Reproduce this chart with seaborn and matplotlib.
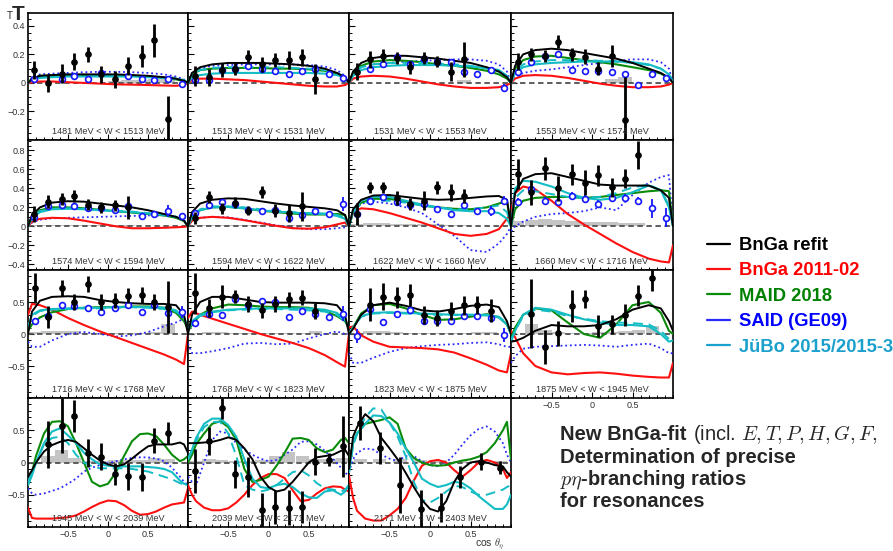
import numpy as np
import pandas as pd
import matplotlib
matplotlib.use("Agg")
import matplotlib.pyplot as plt
import seaborn as sns
from matplotlib.lines import Line2D
from matplotlib import ticker

# ---------------------------------------------------------------- data
W_BINS = ["1481 MeV < W < 1513 MeV", "1513 MeV < W < 1531 MeV", "1531 MeV < W < 1553 MeV",
          "1553 MeV < W < 1574 MeV", "1574 MeV < W < 1594 MeV", "1594 MeV < W < 1622 MeV",
          "1622 MeV < W < 1660 MeV", "1660 MeV < W < 1716 MeV", "1716 MeV < W < 1768 MeV",
          "1768 MeV < W < 1823 MeV", "1823 MeV < W < 1875 MeV", "1875 MeV < W < 1945 MeV",
          "1945 MeV < W < 2039 MeV", "2039 MeV < W < 2171 MeV", "2171 MeV < W < 2403 MeV"]

MODEL_NAMES = ["BnGa refit", "BnGa 2011-02", "MAID 2018", "SAID (GE09)", "JüBo 2015/2015-3"]

# curve sampling points (rows 1-3 and row 4)
CURVE_X_A = [-1, -0.95, -0.85, -0.7, -0.5, -0.3, -0.1, 0.1, 0.3, 0.5, 0.7, 0.85, 0.95, 1]
CURVE_X_B = [-1, -0.95, -0.9, -0.8, -0.7, -0.6, -0.5, -0.4, -0.3, -0.2, -0.1, 0, 0.1, 0.2,
             0.3, 0.4, 0.5, 0.6, 0.7, 0.8, 0.9, 0.95, 1]

BNGA_REFIT = [
    [0, 0.03, 0.05, 0.055, 0.06, 0.06, 0.06, 0.06, 0.055, 0.05, 0.04, 0.03, 0.015, 0],
    [0, 0.07, 0.11, 0.13, 0.14, 0.14, 0.14, 0.135, 0.13, 0.12, 0.1, 0.07, 0.04, 0],
    [0, 0.08, 0.14, 0.175, 0.19, 0.19, 0.18, 0.17, 0.155, 0.14, 0.11, 0.08, 0.04, 0],
    [0, 0.12, 0.2, 0.23, 0.24, 0.23, 0.21, 0.19, 0.17, 0.14, 0.1, 0.07, 0.035, 0],
    [0, 0.12, 0.2, 0.25, 0.265, 0.26, 0.24, 0.22, 0.2, 0.17, 0.13, 0.1, 0.06, 0],
    [0, 0.15, 0.24, 0.28, 0.295, 0.29, 0.265, 0.24, 0.22, 0.205, 0.19, 0.17, 0.12, 0],
    [0, 0.18, 0.28, 0.325, 0.33, 0.31, 0.29, 0.28, 0.285, 0.3, 0.315, 0.32, 0.28, 0],
    [0, 0.35, 0.5, 0.55, 0.56, 0.52, 0.48, 0.44, 0.43, 0.43, 0.43, 0.38, 0.3, 0],
    [0, 0.35, 0.52, 0.58, 0.59, 0.58, 0.53, 0.5, 0.48, 0.47, 0.47, 0.45, 0.3, 0],
    [0, 0.3, 0.5, 0.58, 0.58, 0.54, 0.5, 0.49, 0.49, 0.49, 0.48, 0.45, 0.3, 0],
    [0, 0.08, 0.3, 0.45, 0.49, 0.44, 0.37, 0.35, 0.39, 0.44, 0.46, 0.42, 0.2, 0],
    [-0.12, -0.11, -0.06, 0.05, 0.14, 0.12, 0.12, 0.14, 0.23, 0.38, 0.45, 0.4, 0.2, 0.05],
    [-0.22, -0.12, 0.0, 0.17, 0.27, 0.32, 0.35, 0.32, 0.22, 0.12, 0.03, -0.03, -0.06, -0.03,
     0.06, 0.16, 0.25, 0.28, 0.28, 0.28, 0.31, 0.28, 0.15],
    [0.3, 0.3, 0.3, 0.31, 0.32, 0.35, 0.39, 0.35, 0.22, 0.05, -0.22, -0.38, -0.45, -0.42,
     -0.3, -0.15, 0.0, 0.08, 0.1, 0.12, 0.18, 0.2, 0.1],
    [-0.1, 0.4, 0.55, 0.75, 0.64, 0.38, 0.22, 0.05, -0.16, -0.38, -0.58, -0.72, -0.76, -0.6,
     -0.3, -0.1, 0.0, 0.02, 0.0, -0.04, -0.06, -0.15, -0.22],
]

BNGA_2011 = [
    [0, 0.005, 0.01, 0.01, 0.005, 0.0, -0.005, -0.01, -0.012, -0.015, -0.018, -0.02, -0.015, 0],
    [0, 0.02, 0.03, 0.03, 0.025, 0.02, 0.01, 0.0, -0.01, -0.02, -0.025, -0.025, -0.015, 0],
    [0, 0.03, 0.045, 0.05, 0.045, 0.03, 0.01, -0.01, -0.025, -0.035, -0.035, -0.03, -0.015, 0],
    [0, 0.03, 0.05, 0.055, 0.05, 0.035, 0.015, -0.005, -0.02, -0.03, -0.03, -0.025, -0.012, 0],
    [0, 0.05, 0.08, 0.09, 0.085, 0.06, 0.03, 0.0, -0.02, -0.02, -0.015, -0.01, -0.005, 0],
    [0, 0.06, 0.09, 0.1, 0.09, 0.065, 0.035, 0.005, -0.02, -0.025, -0.01, 0.02, 0.04, 0],
    [0, 0.15, 0.19, 0.18, 0.14, 0.09, 0.04, -0.02, -0.08, -0.1, -0.08, -0.03, 0.08, 0.14],
    [0.15, 0.35, 0.42, 0.39, 0.27, 0.13, 0.02, -0.08, -0.18, -0.27, -0.34, -0.37, -0.38, -0.2],
    [0.3, 0.47, 0.45, 0.38, 0.25, 0.14, 0.04, -0.05, -0.14, -0.23, -0.32, -0.4, -0.47, 0],
    [0.25, 0.35, 0.3, 0.24, 0.16, 0.08, 0.0, -0.07, -0.14, -0.22, -0.33, -0.44, -0.51, 0],
    [0.1, 0.12, -0.02, -0.12, -0.2, -0.21, -0.22, -0.24, -0.29, -0.38, -0.48, -0.57, -0.6, -0.3],
    [0.05, -0.05, -0.3, -0.5, -0.6, -0.63, -0.61, -0.6, -0.62, -0.65, -0.67, -0.68, -0.68, -0.45],
    [-0.7, -0.86, -0.87, -0.87, -0.87, -0.86, -0.85, -0.82, -0.76, -0.69, -0.63, -0.59, -0.6,
     -0.66, -0.75, -0.81, -0.8, -0.76, -0.7, -0.65, -0.63, -0.62, -0.4],
    [-0.35, -0.5, -0.6, -0.7, -0.74, -0.74, -0.71, -0.62, -0.5, -0.35, -0.24, -0.18, -0.18,
     -0.24, -0.43, -0.6, -0.58, -0.48, -0.4, -0.37, -0.38, -0.42, -0.45],
    [-0.2, -0.55, -0.75, -0.87, -0.9, -0.9, -0.82, -0.72, -0.55, -0.28, -0.05, 0.02, 0.04, 0.0,
     -0.12, -0.22, -0.12, 0.0, 0.04, 0.0, -0.1, -0.24, -0.15],
]

MAID_2018 = [
    [0, 0.03, 0.05, 0.05, 0.055, 0.055, 0.055, 0.055, 0.05, 0.045, 0.035, 0.025, 0.012, 0],
    [0, 0.06, 0.09, 0.1, 0.105, 0.105, 0.105, 0.1, 0.1, 0.095, 0.085, 0.065, 0.035, 0],
    [0, 0.07, 0.12, 0.15, 0.16, 0.155, 0.145, 0.13, 0.12, 0.105, 0.085, 0.06, 0.03, 0],
    [0, 0.1, 0.16, 0.185, 0.19, 0.175, 0.16, 0.145, 0.13, 0.11, 0.09, 0.065, 0.035, 0],
    [0, 0.1, 0.17, 0.2, 0.2, 0.19, 0.175, 0.16, 0.145, 0.13, 0.115, 0.09, 0.055, 0],
    [0, 0.1, 0.17, 0.2, 0.205, 0.19, 0.165, 0.15, 0.135, 0.125, 0.125, 0.13, 0.12, 0],
    [0, 0.15, 0.25, 0.29, 0.29, 0.26, 0.22, 0.2, 0.185, 0.18, 0.2, 0.24, 0.27, 0],
    [0, 0.18, 0.27, 0.3, 0.31, 0.31, 0.3, 0.31, 0.33, 0.35, 0.37, 0.38, 0.37, 0],
    [0.05, 0.15, 0.26, 0.34, 0.39, 0.41, 0.42, 0.42, 0.43, 0.43, 0.41, 0.33, 0.2, 0.08],
    [0.05, 0.14, 0.3, 0.4, 0.46, 0.45, 0.43, 0.42, 0.42, 0.41, 0.36, 0.28, 0.2, 0.1],
    [0, 0.1, 0.32, 0.45, 0.47, 0.4, 0.3, 0.22, 0.23, 0.27, 0.31, 0.26, 0.15, 0],
    [-0.07, 0.1, 0.3, 0.4, 0.37, 0.18, 0.0, -0.06, 0.15, 0.45, 0.5, 0.33, 0.05, 0],
    [-0.35, -0.15, 0.1, 0.45, 0.63, 0.64, 0.56, 0.3, 0.0, -0.3, -0.37, -0.33, -0.15, 0.1,
     0.33, 0.44, 0.45, 0.41, 0.28, 0.12, 0.02, 0.05, 0.1],
    [0.0, 0.12, 0.28, 0.45, 0.6, 0.64, 0.55, 0.35, -0.1, -0.3, -0.27, -0.22, -0.05, 0.15,
     0.37, 0.38, 0.35, 0.22, 0.16, 0.2, 0.35, 0.38, 0.3],
    [0.0, 0.3, 0.45, 0.6, 0.63, 0.66, 0.7, 0.6, 0.22, 0.07, 0.0, -0.04, -0.05, -0.04, 0.0,
     0.03, 0.05, 0.09, 0.16, 0.3, 0.5, 0.63, 0.05],
]

SAID_GE09 = [
    [0, 0.04, 0.06, 0.065, 0.07, 0.075, 0.078, 0.078, 0.075, 0.07, 0.06, 0.045, 0.025, 0],
    [0, 0.07, 0.1, 0.12, 0.125, 0.13, 0.13, 0.13, 0.13, 0.125, 0.115, 0.09, 0.05, 0],
    [0, 0.06, 0.11, 0.13, 0.14, 0.15, 0.155, 0.16, 0.165, 0.165, 0.155, 0.13, 0.08, 0],
    [0, 0.04, 0.07, 0.085, 0.095, 0.11, 0.125, 0.14, 0.155, 0.165, 0.165, 0.145, 0.1, 0],
    [0, 0.04, 0.07, 0.085, 0.09, 0.095, 0.1, 0.105, 0.11, 0.115, 0.115, 0.1, 0.07, 0],
    [0, 0.06, 0.09, 0.1, 0.095, 0.07, 0.04, 0.01, -0.015, -0.03, -0.03, -0.02, -0.01, 0],
    [0, 0.15, 0.24, 0.26, 0.24, 0.2, 0.14, 0.02, -0.1, -0.25, -0.27, -0.18, -0.08, 0],
    [-0.05, 0.0, 0.05, 0.1, 0.13, 0.14, 0.16, 0.2, 0.17, 0.33, 0.46, 0.52, 0.54, 0],
    [-0.12, -0.2, -0.2, -0.1, 0.0, 0.03, 0.0, -0.04, -0.02, 0.03, 0.12, 0.18, 0.24, 0.2],
    [-0.15, -0.3, -0.3, -0.27, -0.22, -0.15, -0.14, -0.16, -0.15, -0.07, 0.0, 0.04, 0.0, 0],
    [-0.3, -0.45, -0.45, -0.37, -0.28, -0.22, -0.19, -0.17, -0.16, -0.14, -0.13, -0.16, -0.2, -0.2],
    [-0.45, -0.35, -0.23, -0.2, -0.19, -0.18, -0.17, -0.18, -0.2, -0.17, -0.15, -0.22, -0.3, -0.3],
    [-0.4, -0.48, -0.5, -0.48, -0.44, -0.4, -0.33, -0.25, -0.14, -0.08, -0.04, -0.01, 0.02,
     0.05, 0.07, 0.08, 0.08, 0.06, 0.02, -0.08, -0.22, -0.3, -0.35],
    [-0.22, -0.3, -0.35, 0.0, 0.35, 0.48, 0.45, 0.3, 0.2, 0.12, 0.06, 0.02, 0.04, 0.12, 0.2,
     0.32, 0.33, 0.28, 0.18, 0.06, -0.08, -0.15, -0.22],
    [-0.15, 0.05, 0.15, 0.22, 0.2, 0.12, 0.06, 0.02, 0.1, 0.1, 0.02, -0.04, -0.06, 0.0, 0.12,
     0.28, 0.42, 0.52, 0.56, 0.48, 0.3, 0.12, 0.0],
]

JUBO_2015 = [
    [0, 0.025, 0.035, 0.04, 0.045, 0.045, 0.045, 0.045, 0.045, 0.04, 0.035, 0.03, 0.02, 0],
    [0, 0.04, 0.055, 0.065, 0.07, 0.07, 0.07, 0.07, 0.07, 0.07, 0.065, 0.055, 0.035, 0],
    [0, 0.05, 0.09, 0.11, 0.12, 0.125, 0.125, 0.125, 0.12, 0.115, 0.105, 0.09, 0.05, 0],
    [0, 0.07, 0.11, 0.13, 0.14, 0.145, 0.15, 0.15, 0.15, 0.145, 0.13, 0.1, 0.06, 0],
    [0, 0.09, 0.15, 0.18, 0.185, 0.18, 0.17, 0.16, 0.15, 0.135, 0.12, 0.1, 0.06, 0],
    [0, 0.1, 0.17, 0.2, 0.205, 0.19, 0.17, 0.155, 0.145, 0.135, 0.13, 0.11, 0.08, 0],
    [0, 0.17, 0.27, 0.31, 0.31, 0.27, 0.23, 0.2, 0.17, 0.16, 0.16, 0.14, 0.08, 0],
    [0, 0.4, 0.48, 0.47, 0.42, 0.35, 0.3, 0.28, 0.3, 0.36, 0.43, 0.38, 0.2, 0],
    [0.1, 0.3, 0.37, 0.39, 0.4, 0.41, 0.41, 0.42, 0.42, 0.42, 0.41, 0.37, 0.25, 0.1],
    [0.05, 0.2, 0.3, 0.35, 0.38, 0.39, 0.4, 0.4, 0.4, 0.4, 0.38, 0.33, 0.22, 0.1],
    [0, 0.1, 0.28, 0.33, 0.34, 0.33, 0.32, 0.31, 0.3, 0.3, 0.29, 0.26, 0.15, 0],
    [-0.12, 0.05, 0.3, 0.41, 0.38, 0.3, 0.23, 0.18, 0.14, 0.14, 0.12, 0.0, -0.12, -0.1],
    [-0.35, -0.2, 0.0, 0.3, 0.48, 0.53, 0.42, 0.3, 0.15, 0.05, -0.03, -0.05, -0.06, -0.06,
     -0.06, -0.06, -0.07, -0.08, -0.1, -0.15, -0.28, -0.33, -0.35],
    [0.05, 0.2, 0.38, 0.6, 0.68, 0.68, 0.58, 0.4, 0.05, -0.25, -0.38, -0.4, -0.35, -0.33,
     -0.38, -0.48, -0.54, -0.55, -0.45, -0.43, -0.5, -0.45, -0.35],
    [-0.15, 0.3, 0.45, 0.6, 0.73, 0.72, 0.62, 0.45, 0.22, 0.0, -0.25, -0.33, -0.38, -0.35,
     -0.3, -0.32, -0.4, -0.52, -0.62, -0.72, -0.72, -0.65, -0.5],
]

JUBO_2015_3 = [
    [0, 0.03, 0.045, 0.05, 0.05, 0.05, 0.05, 0.05, 0.05, 0.045, 0.04, 0.03, 0.015, 0],
    [0, 0.06, 0.09, 0.105, 0.11, 0.11, 0.11, 0.11, 0.105, 0.1, 0.09, 0.07, 0.04, 0],
    [0, 0.06, 0.11, 0.13, 0.14, 0.14, 0.14, 0.135, 0.13, 0.12, 0.1, 0.08, 0.04, 0],
    [0, 0.08, 0.13, 0.15, 0.16, 0.16, 0.16, 0.155, 0.15, 0.14, 0.125, 0.1, 0.06, 0],
    [0, 0.1, 0.16, 0.185, 0.19, 0.185, 0.175, 0.165, 0.155, 0.14, 0.125, 0.1, 0.06, 0],
    [0, 0.11, 0.18, 0.21, 0.21, 0.2, 0.18, 0.165, 0.15, 0.14, 0.135, 0.12, 0.09, 0],
    [0, 0.15, 0.24, 0.27, 0.27, 0.25, 0.22, 0.2, 0.18, 0.18, 0.2, 0.22, 0.15, 0],
    [0, 0.3, 0.38, 0.37, 0.34, 0.31, 0.3, 0.31, 0.35, 0.41, 0.44, 0.38, 0.22, 0],
    [0.1, 0.28, 0.36, 0.38, 0.39, 0.4, 0.4, 0.41, 0.42, 0.41, 0.39, 0.35, 0.25, 0.1],
    [0.05, 0.18, 0.28, 0.34, 0.37, 0.38, 0.39, 0.39, 0.38, 0.37, 0.35, 0.3, 0.2, 0.08],
    [0, 0.1, 0.27, 0.32, 0.33, 0.32, 0.31, 0.3, 0.3, 0.3, 0.3, 0.27, 0.17, 0],
    [-0.1, 0.05, 0.28, 0.38, 0.35, 0.28, 0.24, 0.2, 0.18, 0.17, 0.15, 0.05, -0.08, -0.08],
    [-0.3, -0.15, 0.0, 0.28, 0.38, 0.4, 0.3, 0.12, 0.0, -0.06, -0.09, -0.09, -0.09, -0.09,
     -0.1, -0.12, -0.14, -0.18, -0.22, -0.26, -0.32, -0.34, -0.35],
    [0.05, 0.18, 0.33, 0.55, 0.63, 0.63, 0.45, 0.1, -0.35, -0.42, -0.45, -0.42, -0.35, -0.25,
     -0.15, -0.12, -0.2, -0.32, -0.4, -0.42, -0.45, -0.42, -0.35],
    [-0.15, 0.25, 0.45, 0.7, 0.84, 0.82, 0.62, 0.4, 0.1, -0.3, -0.58, -0.62, -0.55, -0.45,
     -0.36, -0.38, -0.45, -0.5, -0.5, -0.46, -0.42, -0.38, -0.35],
]

# measured T (filled black points)
DATA_X = [
    [-0.925, -0.75, -0.58, -0.42, -0.25, -0.083, 0.083, 0.25, 0.42, 0.58, 0.75],
    [-0.917, -0.74, -0.58, -0.41, -0.25, -0.08, 0.085, 0.25, 0.42, 0.58],
    [-0.905, -0.74, -0.576, -0.41, -0.25, -0.074, 0.09, 0.255, 0.42],
    [-0.918, -0.75, -0.58, -0.416, -0.25, -0.086, 0.078, 0.243, 0.407],
    [-0.925, -0.75, -0.58, -0.42, -0.25, -0.083, 0.083, 0.25],
    [-0.91, -0.74, -0.58, -0.41, -0.25, -0.08, 0.085, 0.25, 0.42],
    [-0.905, -0.74, -0.576, -0.41, -0.25, -0.074, 0.09, 0.255, 0.42],
    [-0.918, -0.75, -0.58, -0.416, -0.25, -0.086, 0.078, 0.243, 0.407, 0.572],
    [-0.917, -0.75, -0.58, -0.42, -0.25, -0.083, 0.083, 0.25, 0.42, 0.58, 0.75],
    [-0.91, -0.74, -0.58, -0.41, -0.25, -0.08, 0.085, 0.25, 0.42, 0.58],
    [-0.74, -0.576, -0.41, -0.25, -0.074, 0.09, 0.255, 0.42, 0.585, 0.75],
    [-0.75, -0.58, -0.416, -0.25, -0.086, 0.078, 0.243, 0.407, 0.572, 0.745],
    [-0.75, -0.58, -0.42, -0.25, -0.083, 0.083, 0.25, 0.42, 0.58, 0.75],
    [-0.91, -0.74, -0.58, -0.41, -0.25, -0.08, 0.085, 0.25, 0.42, 0.58, 0.75, 0.925],
    [-0.86, -0.62, -0.37, -0.115, 0.13, 0.37, 0.625, 0.87],
]
DATA_T = [
    [0.09, 0.0, 0.065, 0.15, 0.2, 0.06, 0.025, 0.12, 0.19, 0.3, -0.25],
    [0.05, 0.04, 0.09, 0.1, 0.18, 0.13, 0.16, 0.16, 0.18, 0.025],
    [0.08, 0.165, 0.19, 0.175, 0.11, 0.175, 0.15, 0.08, 0.165],
    [0.15, 0.2, 0.19, 0.29, 0.2, 0.185, 0.1, 0.19, -0.26],
    [0.13, 0.26, 0.29, 0.32, 0.23, 0.2, 0.22, 0.2],
    [0.09, 0.31, 0.19, 0.25, 0.165, 0.36, 0.165, 0.14, 0.21],
    [0.13, 0.41, 0.41, 0.3, 0.235, 0.27, 0.41, 0.36, 0.32],
    [0.55, 0.36, 0.61, 0.4, 0.55, 0.46, 0.54, 0.41, 0.5, 0.75],
    [0.72, 0.27, 0.72, 0.5, 0.78, 0.5, 0.52, 0.6, 0.61, 0.5, 0.42],
    [0.64, 0.41, 0.58, 0.59, 0.47, 0.37, 0.47, 0.54, 0.57, 0.36],
    [0.46, 0.58, 0.57, 0.61, 0.30, 0.25, 0.36, 0.45, 0.46, 0.36],
    [0.32, -0.2, 0.01, 0.44, 0.55, 0.12, 0.15, 0.3, 0.6, 0.87],
    [0.28, 0.57, 0.72, 0.15, 0.09, -0.18, -0.21, -0.22, 0.34, 0.46],
    [-0.13, 0.33, 0.84, -0.18, -0.23, -0.74, -0.69, -0.7, -0.69, 0.015, 0.04, 0.25],
    [0.61, 0.22, -0.35, -0.72, -0.7, -0.22, 0.015, -0.08],
]
DATA_ERR = [
    [0.065, 0.065, 0.065, 0.06, 0.05, 0.06, 0.06, 0.065, 0.075, 0.115, 0.16],
    [0.07, 0.06, 0.05, 0.045, 0.05, 0.05, 0.05, 0.065, 0.06, 0.105],
    [0.06, 0.06, 0.045, 0.04, 0.045, 0.04, 0.04, 0.065, 0.12],
    [0.06, 0.045, 0.04, 0.045, 0.045, 0.05, 0.045, 0.075, 0.3],
    [0.08, 0.07, 0.065, 0.06, 0.055, 0.055, 0.06, 0.12],
    [0.06, 0.065, 0.06, 0.06, 0.05, 0.065, 0.07, 0.09, 0.15],
    [0.12, 0.06, 0.06, 0.07, 0.06, 0.1, 0.07, 0.09, 0.07],
    [0.16, 0.13, 0.12, 0.13, 0.11, 0.13, 0.11, 0.1, 0.1, 0.15],
    [0.23, 0.17, 0.12, 0.12, 0.13, 0.13, 0.12, 0.12, 0.12, 0.13, 0.41],
    [0.32, 0.14, 0.18, 0.1, 0.13, 0.12, 0.12, 0.12, 0.11, 0.12],
    [0.26, 0.21, 0.17, 0.17, 0.14, 0.13, 0.14, 0.15, 0.14, 0.18],
    [0.54, 0.27, 0.2, 0.25, 0.14, 0.17, 0.15, 0.17, 0.17, 0.2],
    [0.37, 0.43, 0.25, 0.22, 0.21, 0.17, 0.21, 0.22, 0.2, 0.17],
    [0.34, 0.22, 0.16, 0.22, 0.31, 0.26, 0.27, 0.27, 0.25, 0.21, 0.1, 0.47],
    [0.26, 0.25, 0.43, 0.3, 0.22, 0.17, 0.13, 0.1],
]
SYS_ERR = [
    [0, 0, 0, 0, 0, 0, 0.01, 0.02, 0.02, 0.03, 0.05],
    [0, 0, 0, 0, 0, 0, 0, 0, 0, 0],
    [0, 0, 0, 0, 0, 0, 0, 0, 0.02],
    [0, 0, 0, 0, 0, 0, 0, 0.03, 0.04],
    [0.01, 0.01, 0.01, 0.01, 0.01, 0.01, 0.01, 0.01],
    [0.01, 0.01, 0.01, 0.01, 0.01, 0.01, 0.01, 0.01, 0.01],
    [0.03, 0.04, 0.04, 0.03, 0.03, 0.02, 0.02, 0.01, 0.01],
    [0.06, 0.07, 0.08, 0.07, 0.06, 0.05, 0.05, 0.05, 0.04, 0.04],
    [0.03, 0.05, 0.05, 0.04, 0.02, 0.02, 0.02, 0.02, 0.02, 0.03, 0.15],
    [0.02, 0.03, 0.03, 0.02, 0.02, 0.02, 0.02, 0.02, 0.02, 0.04],
    [0.05, 0.05, 0.03, 0.02, 0.02, 0.02, 0.02, 0.02, 0.03, 0.03],
    [0.15, 0.06, 0.03, 0.02, 0.02, 0.03, 0.03, 0.05, 0.06, 0.12],
    [0.1, 0.2, 0.07, 0.03, 0.03, 0.04, 0.04, 0.04, 0.07, 0.05],
    [0.03, 0.05, 0.04, 0.03, 0.03, 0.04, 0.1, 0.17, 0.1, 0.06, 0.06, 0.07],
    [0.05, 0.05, 0.05, 0.04, 0.04, 0.03, 0.02, 0.02],
]

# second data set (open blue circles)
OPEN_X = [
    [-0.925, -0.58, -0.42, -0.25, -0.083, 0.25, 0.42, 0.58, 0.75, 0.92],
    [-0.917, -0.74, -0.58, -0.41, -0.25, -0.08, 0.085, 0.25, 0.42, 0.58, 0.75, 0.925],
    [-0.74, -0.576, -0.41, -0.25, -0.074, 0.09, 0.255, 0.42, 0.585, 0.75, 0.918],
    [-0.918, -0.75, -0.58, -0.416, -0.25, -0.086, 0.078, 0.243, 0.407, 0.572, 0.745, 0.91],
    [-0.925, -0.75, -0.58, -0.42, -0.25, -0.083, 0.083, 0.25, 0.42, 0.58, 0.75, 0.92],
    [-0.91, -0.74, -0.58, -0.41, -0.25, -0.08, 0.085, 0.25, 0.42, 0.58, 0.75, 0.925],
    [-0.905, -0.74, -0.576, -0.41, -0.25, -0.074, 0.09, 0.255, 0.42, 0.585, 0.75, 0.918],
    [-0.918, -0.75, -0.58, -0.416, -0.25, -0.086, 0.078, 0.243, 0.407, 0.572, 0.745, 0.91],
    [-0.917, -0.75, -0.58, -0.42, -0.25, -0.083, 0.083, 0.25, 0.42, 0.58, 0.75, 0.92],
    [-0.91, -0.74, -0.58, -0.41, -0.25, -0.08, 0.085, 0.25, 0.42, 0.58, 0.75, 0.925],
    [-0.905, -0.74, -0.576, -0.41, -0.25, -0.074, 0.09, 0.255, 0.42, 0.585, 0.75, 0.918],
    [], [], [], [],
]
OPEN_T = [
    [0.025, 0.03, 0.05, 0.03, 0.07, 0.05, 0.03, 0.02, 0.025, -0.01],
    [0.02, 0.02, 0.09, 0.1, 0.12, 0.095, 0.087, 0.065, 0.087, 0.095, 0.065, 0.035],
    [0.1, 0.135, 0.185, 0.13, 0.165, 0.145, 0.15, 0.075, 0.065, 0.09, -0.035],
    [0.075, 0.15, 0.19, 0.2, 0.09, 0.082, 0.082, 0.075, 0.065, -0.012, 0.065, 0.035],
    [0.095, 0.21, 0.23, 0.21, 0.19, 0.19, 0.175, 0.21, 0.105, 0.13, 0.16, 0.105],
    [0.14, 0.23, 0.26, 0.235, 0.175, 0.165, 0.175, 0.09, 0.12, 0.165, 0.13, 0.235],
    [0.13, 0.27, 0.31, 0.26, 0.22, 0.235, 0.185, 0.13, 0.23, 0.16, 0.16, 0.27],
    [0.26, 0.39, 0.27, 0.26, 0.32, 0.29, 0.235, 0.30, 0.30, 0.27, 0.19, 0.09],
    [0.2, 0.28, 0.45, 0.44, 0.41, 0.345, 0.41, 0.46, 0.345, 0.46, 0.335, 0.345],
    [0.165, 0.32, 0.29, 0.55, 0.45, 0.51, 0.5, 0.27, 0.355, 0.32, 0.27, 0.32],
    [-0.03, 0.39, 0.19, 0.31, 0.37, 0.2, 0.2, 0.2, 0.28, 0.28, 0.25, -0.015],
    [], [], [], [],
]
OPEN_ERR = [
    [0.02, 0.02, 0.02, 0.02, 0.02, 0.02, 0.02, 0.02, 0.02, 0.025],
    [0.02, 0.02, 0.02, 0.02, 0.02, 0.02, 0.02, 0.02, 0.02, 0.02, 0.02, 0.02],
    [0.02, 0.02, 0.02, 0.02, 0.02, 0.02, 0.02, 0.02, 0.02, 0.02, 0.025],
    [0.02, 0.02, 0.02, 0.02, 0.02, 0.02, 0.02, 0.02, 0.02, 0.02, 0.02, 0.02],
    [0.03, 0.03, 0.03, 0.03, 0.03, 0.03, 0.03, 0.03, 0.03, 0.03, 0.06, 0.03],
    [0.03, 0.03, 0.03, 0.03, 0.03, 0.03, 0.03, 0.03, 0.03, 0.03, 0.03, 0.07],
    [0.03, 0.03, 0.03, 0.03, 0.03, 0.03, 0.03, 0.03, 0.03, 0.03, 0.05, 0.05],
    [0.04, 0.04, 0.04, 0.04, 0.04, 0.04, 0.04, 0.04, 0.04, 0.04, 0.1, 0.1],
    [0.05, 0.05, 0.05, 0.05, 0.05, 0.05, 0.05, 0.05, 0.05, 0.05, 0.05, 0.1],
    [0.05, 0.05, 0.05, 0.05, 0.05, 0.05, 0.05, 0.05, 0.05, 0.05, 0.05, 0.11],
    [0.11, 0.05, 0.05, 0.05, 0.05, 0.05, 0.05, 0.05, 0.05, 0.05, 0.05, 0.11],
    [], [], [], [],
]

ROW_YLIM = [(-0.40, 0.49), (-0.46, 0.91), (-1.0, 1.0), (-1.0, 1.0)]
ROW_YTICKS = [[-0.2, 0, 0.2, 0.4], [-0.4, -0.2, 0, 0.2, 0.4, 0.6, 0.8], [-0.5, 0, 0.5], [-0.5, 0, 0.5]]
ROW_YMINOR = [0.05, 0.05, 0.1, 0.1]

# ---------------------------------------------------------------- style
sns.set_theme(style="white")
plt.rcParams["font.family"] = ["Liberation Sans", "DejaVu Sans"]
plt.rcParams["mathtext.fontset"] = "cm"
plt.rcParams["axes.unicode_minus"] = True

C_BLACK = "#000000"
C_RED = "#ff1010"
C_GREEN = "#0a8c0a"
C_BLUE = "#2a2aff"
C_CYAN = "#14bcc4"
C_LEG_CYAN = "#1aa0cc"
C_OPEN = "#1515ff"

FIG_W, FIG_H = 893, 551
fig = plt.figure(figsize=(FIG_W / 100, FIG_H / 100), dpi=100)

COL_L = [28, 188, 349, 511]
COL_R = [188, 349, 511, 673]
ROW_T = [13, 140, 270, 398]
ROW_B = [140, 270, 398, 527]


def tick_fmt(v, pos):
    if abs(v) < 1e-9:
        return "0"
    return f"{v:g}".replace("-", "\u2212")


for i in range(15):
    r, c = divmod(i, 4)
    ax = fig.add_axes([COL_L[c] / FIG_W, 1 - ROW_B[r] / FIG_H,
                       (COL_R[c] - COL_L[c]) / FIG_W, (ROW_B[r] - ROW_T[r]) / FIG_H])
    ax.set_facecolor("white")

    # systematic error bands
    ax.bar(DATA_X[i], SYS_ERR[i], width=0.165, bottom=0, color="#c4c4c4",
           edgecolor="none", zorder=1)
    ax.axhline(0, color="#505050", lw=1.3, ls=(0, (3, 2)), zorder=2)

    cx = CURVE_X_B if r == 3 else CURVE_X_A
    curves = [
        (SAID_GE09[i], C_BLUE, (0, (1, 1.6)), 1.3),
        (BNGA_2011[i], C_RED, "-", 1.5),
        (MAID_2018[i], C_GREEN, "-", 1.5),
        (JUBO_2015_3[i], C_CYAN, (0, (5, 3)), 1.4),
        (JUBO_2015[i], C_CYAN, "-", 1.5),
        (BNGA_REFIT[i], C_BLACK, "-", 1.4),
    ]
    for ys, col, ls, lw in curves:
        sns.lineplot(x=cx, y=ys, ax=ax, color=col, linestyle=ls, linewidth=lw,
                     sort=False, estimator=None, legend=False, zorder=3)

    if OPEN_X[i]:
        ax.errorbar(OPEN_X[i], OPEN_T[i], yerr=OPEN_ERR[i], fmt="o", ms=4.2,
                    mfc="white", mec=C_OPEN, mew=1.2, ecolor=C_OPEN, elinewidth=1.3,
                    capsize=0, zorder=5)
    ax.errorbar(DATA_X[i], DATA_T[i], yerr=DATA_ERR[i], fmt="o", ms=3.8,
                color="black", ecolor="black", elinewidth=2.0, capsize=0, zorder=6)

    ax.set_xlim(-1, 1)
    ax.set_ylim(*ROW_YLIM[r])
    ax.set_xlabel("")
    ax.set_ylabel("")
    ax.xaxis.set_major_locator(ticker.FixedLocator([-0.5, 0, 0.5]))
    ax.xaxis.set_minor_locator(ticker.MultipleLocator(0.1))
    ax.yaxis.set_major_locator(ticker.FixedLocator(ROW_YTICKS[r]))
    ax.yaxis.set_minor_locator(ticker.MultipleLocator(ROW_YMINOR[r]))
    ax.xaxis.set_major_formatter(ticker.FuncFormatter(tick_fmt))
    ax.yaxis.set_major_formatter(ticker.FuncFormatter(tick_fmt))
    ax.tick_params(which="both", direction="in", top=False, right=False,
                   left=True, bottom=True, labelsize=6.5, labelcolor="#333333",
                   color="black", pad=2)
    ax.tick_params(which="major", length=4, width=0.8)
    ax.tick_params(which="minor", length=2, width=0.7)
    show_x = (r == 3) or (i == 11)
    ax.tick_params(axis="x", labelbottom=show_x)
    ax.tick_params(axis="y", labelleft=(c == 0))
    for sp in ax.spines.values():
        sp.set_color("black")
        sp.set_linewidth(1.2)
        sp.set_visible(True)

    ax.text(0.5, 0.065, W_BINS[i], transform=ax.transAxes, ha="center", va="center",
            fontsize=6.6, color="#333333", zorder=7)

# axis titles
fig.text(7 / FIG_W, 1 - 19 / FIG_H, "T", fontsize=7, ha="left", va="baseline")
fig.text(12 / FIG_W, 1 - 20 / FIG_H, "T", fontsize=15, fontweight="bold",
         ha="left", va="baseline")
fig.text(490 / FIG_W, 1 - 544 / FIG_H, "cos $\\theta_{\\eta}$", fontsize=7.5,
         ha="center", va="center", color="#333333")

# legend
LEGEND_COLORS = [C_BLACK, "#ff0000", "#008000", "#0000ff", C_LEG_CYAN]
LEGEND_LINE_COLORS = [C_BLACK, C_RED, C_GREEN, C_BLUE, C_LEG_CYAN]
handles = [Line2D([], [], color=col, lw=1.6) for col in LEGEND_LINE_COLORS]
fig.legend(handles, MODEL_NAMES, loc="upper left",
           bbox_to_anchor=(707 / FIG_W, 1 - 237 / FIG_H), frameon=False,
           handlelength=1.28, handletextpad=0.44, labelspacing=0.46, borderpad=0,
           borderaxespad=0, prop={"weight": "bold", "size": 13.2},
           labelcolor=LEGEND_COLORS)

# bottom-right note
fig.text(560 / FIG_W, 1 - 440 / FIG_H, "New BnGa-fit", fontsize=14.5, fontweight="bold",
         ha="left", va="baseline")
fig.text(693 / FIG_W, 1 - 440 / FIG_H, "(incl. $E, T, P, H, G, F,$", fontsize=14.5,
         ha="left", va="baseline")
fig.text(560 / FIG_W, 1 - 463 / FIG_H, "Determination of precise", fontsize=14.5,
         fontweight="bold", ha="left", va="baseline")
fig.text(560 / FIG_W, 1 - 485 / FIG_H, "$p\\eta$-branching ratios", fontsize=14.5,
         fontweight="bold", ha="left", va="baseline")
fig.text(560 / FIG_W, 1 - 507 / FIG_H, "for resonances", fontsize=14.5,
         fontweight="bold", ha="left", va="baseline")

fig.savefig("out.png", dpi=100)
